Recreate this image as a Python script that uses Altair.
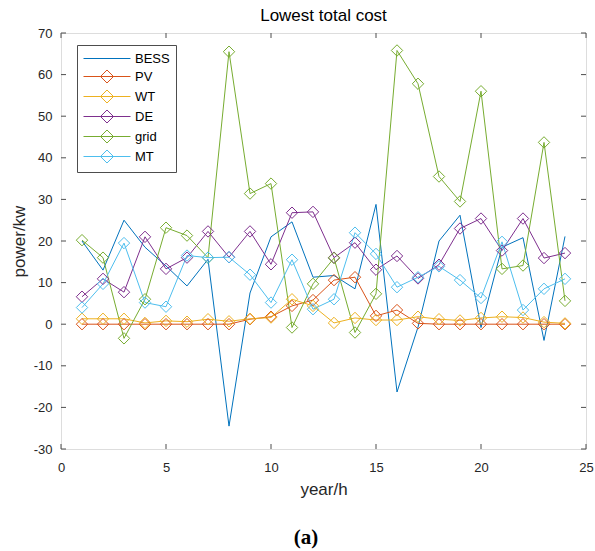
import altair as alt
import pandas as pd

# ---------------- data ----------------
hours = list(range(1, 25))
series_names = ["BESS", "PV", "WT", "DE", "grid", "MT"]
series_colors = ["#0072BD", "#D95319", "#EDB120", "#7E2F8E", "#77AC30", "#4DBEEE"]

bess = [20.0, 13.0, 25.0, 18.5, 14.0, 9.2, 15.6, -24.5, 7.5, 21.0, 24.6, 11.3,
        11.7, 8.5, 28.8, -16.3, -0.7, 20.0, 26.2, -0.8, 18.5, 20.8, -3.9, 21.1]
pv = [0.0, 0.0, 0.0, 0.0, 0.0, 0.0, 0.0, 0.0, 1.2, 1.8, 4.4, 5.8,
      10.6, 11.3, 2.0, 3.4, 0.2, 0.0, 0.0, 0.0, 0.0, 0.0, 0.0, 0.0]
wt = [1.3, 1.3, 1.3, 0.3, 0.8, 0.6, 1.2, 0.7, 1.3, 1.6, 6.0, 4.4,
      0.3, 1.5, 1.0, 1.0, 1.8, 1.2, 0.9, 1.5, 1.8, 1.6, 0.5, 0.2]
de = [6.6, 10.9, 7.7, 21.0, 13.3, 16.0, 22.3, 16.1, 22.3, 14.4, 26.8, 27.0,
      16.0, 19.6, 13.1, 16.4, 11.0, 14.3, 23.0, 25.4, 17.7, 25.4, 15.9, 17.1]
grid = [20.2, 16.0, -3.4, 6.0, 23.2, 21.3, 16.0, 65.5, 31.4, 33.8, -0.8, 9.7,
        15.9, -2.0, 7.3, 65.8, 57.8, 35.5, 29.5, 56.0, 13.3, 14.1, 43.7, 5.6]
mt = [4.0, 9.7, 19.5, 5.2, 4.2, 16.5, 16.0, 16.1, 11.9, 5.2, 15.5, 3.6,
      6.0, 22.0, 16.9, 8.9, 11.3, 13.9, 10.6, 6.3, 19.8, 3.4, 8.5, 10.9]

x_ticks = [0, 5, 10, 15, 20, 25]
y_ticks = [-30, -20, -10, 0, 10, 20, 30, 40, 50, 60, 70]
panel_label = ["(a)"]
chart_title = "Lowest total cost"

# ---------------- build table ----------------
rows = []
for idx, (name, vals) in enumerate(zip(series_names, [bess, pv, wt, de, grid, mt])):
    for h, v in zip(hours, vals):
        rows.append({"hour": h, "series": name, "value": v, "k": idx})
df = pd.DataFrame(rows)

W, H = 525, 416
FONT = "Liberation Sans"
TXT = "#262626"
FRAME = "#4d4d4d"

x_scale = alt.Scale(domain=[0, 25], nice=False, zero=False)
y_scale = alt.Scale(domain=[-30, 70], nice=False, zero=False)
color_scale = alt.Scale(domain=series_names, range=series_colors)

x_axis = alt.Axis(values=x_ticks, ticks=False, domain=False, grid=False,
                  labelPadding=12, labelFontSize=13, labelFont=FONT, labelColor=TXT,
                  labelFlush=False, labelOverlap=False,
                  labelExpr="toString(datum.value)",
                  title="year/h", titleFont=FONT, titleFontSize=17,
                  titleFontWeight="normal", titleColor=TXT, titlePadding=7)
y_axis = alt.Axis(values=y_ticks, ticks=False, domain=False, grid=False,
                  labelPadding=9, labelFontSize=13, labelFont=FONT, labelColor=TXT,
                  labelFlush=False, labelOverlap=False,
                  labelExpr="toString(datum.value)",
                  title="power/kw", titleFont=FONT, titleFontSize=17,
                  titleFontWeight="normal", titleColor=TXT, titlePadding=5)

# legend symbols: size 196 -> unit = 7 px; line spans -7..+40 px, diamond centred at 16.5 px
diamond_path = "M-1,0L5.714,0M1.429,0L2.357,-0.929L3.286,0L2.357,0.929Z"
line_path = "M-1,0L5.714,0"
legend_shapes = [line_path] + [diamond_path] * 5
shape_scale = alt.Scale(domain=series_names, range=legend_shapes)

legend = alt.Legend(
    title=None, orient="none", legendX=16, legendY=12, direction="vertical",
    symbolSize=196, symbolStrokeWidth=1, symbolFillColor="transparent",
    symbolOpacity=1,
    labelFont=FONT, labelFontSize=13, labelColor="#000", labelOffset=37,
    fillColor="white", strokeColor=FRAME, padding=6, rowPadding=1,
)

X = alt.X("hour:Q", scale=x_scale, axis=x_axis, title="year/h")
Y = alt.Y("value:Q", scale=y_scale, axis=y_axis, title="power/kw")
C = alt.Color("series:N", scale=color_scale, sort=series_names, legend=legend)

base = alt.Chart(df)

lines = base.mark_line(strokeWidth=1).encode(
    x=X, y=Y, color=C, detail="series:N", order="hour:Q",
)

points = base.transform_filter(alt.datum.series != "BESS").mark_point(
    shape="diamond", filled=False, size=130, strokeWidth=1, opacity=1
).encode(x=X, y=Y, color=C)

# legend-only layer (no rows survive the filter; legend is built from scales)
legend_layer = base.transform_filter("false").mark_point(
    filled=False, size=196, strokeWidth=1
).encode(
    x=X, y=Y, color=C,
    shape=alt.Shape("series:N", scale=shape_scale, sort=series_names, legend=legend),
)

xt = pd.DataFrame({"t": x_ticks})
yt = pd.DataFrame({"t": y_ticks})
tick_style = dict(color=FRAME, strokeWidth=1)
XT = alt.X("t:Q", scale=x_scale, axis=x_axis, title="year/h")
YT = alt.Y("t:Q", scale=y_scale, axis=y_axis, title="power/kw")
xt_bottom = alt.Chart(xt).mark_rule(**tick_style).encode(
    x=XT, y=alt.value(H), y2=alt.value(H - 5))
xt_top = alt.Chart(xt).mark_rule(**tick_style).encode(
    x=XT, y=alt.value(0), y2=alt.value(5))
yt_left = alt.Chart(yt).mark_rule(**tick_style).encode(
    y=YT, x=alt.value(0), x2=alt.value(5))
yt_right = alt.Chart(yt).mark_rule(**tick_style).encode(
    y=YT, x=alt.value(W - 5), x2=alt.value(W))

label = alt.Chart(pd.DataFrame({"label": panel_label})).mark_text(
    font="Liberation Serif", fontSize=21, fontWeight="bold", color="#000",
    align="center", baseline="middle"
).encode(x=alt.value(245), y=alt.value(505), text="label:N")

chart = alt.layer(lines, points, legend_layer, xt_bottom, xt_top, yt_left, yt_right, label).properties(
    width=W, height=H,
    title=alt.TitleParams(chart_title, font=FONT, fontSize=17, fontWeight="normal",
                          color="#000", offset=2, anchor="middle"),
    autosize=alt.AutoSizeParams(type="none"),
    padding={"left": 61, "top": 33, "right": 9, "bottom": 102},
).configure_view(stroke=FRAME, strokeWidth=1).configure(background="white")

chart.save("out.html", embed_options={"renderer": "svg", "actions": False})
